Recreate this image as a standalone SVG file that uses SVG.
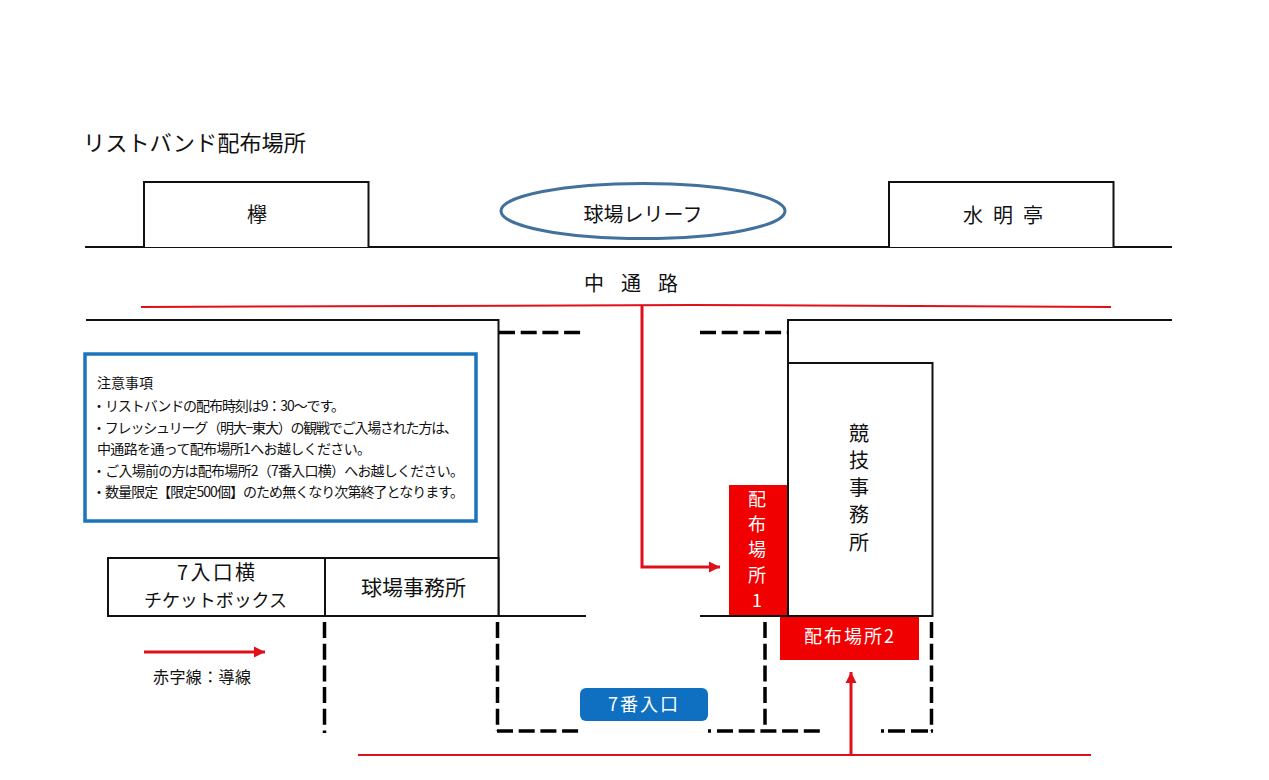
<svg xmlns="http://www.w3.org/2000/svg" width="1269" height="780" viewBox="0 0 1269 780">
<style>
text{font-family:"Noto Sans CJK JP","Liberation Sans",sans-serif;fill:#111}
.m{text-anchor:middle}
.w{fill:#fff;text-anchor:middle}
.b{fill:#fff;stroke:#111;stroke-width:2}
.l{fill:none;stroke:#111;stroke-width:2}
.d{fill:none;stroke:#000;stroke-width:3.5;stroke-dasharray:16 5.7}
.r{fill:none;stroke:#e0101a;stroke-width:2}
.a{fill:none;stroke:#e0101a;stroke-width:3}
.t{font-size:14px}
</style>
<defs><marker id="ah" markerUnits="userSpaceOnUse" markerWidth="12" markerHeight="12" refX="11" refY="6" orient="auto"><path d="M0 0.500L11 6L0 11.500Z" fill="#e0101a"/></marker></defs>
<rect width="1269" height="780" fill="#fff"/>
<text x="83" y="151" font-size="22" textLength="223" lengthAdjust="spacingAndGlyphs">リストバンド配布場所</text>
<g id="connectors">
<path class="l" d="M86 320H498.500V616H108"/>
<path class="l" d="M85 247H1172"/>
<path class="l" d="M1172 320H788V363"/>
<path class="l" d="M498 616H586M700 616H788"/>
<path class="d" d="M499 332.500H581"/>
<path class="d" d="M700 332.500H788"/>
<path class="d" d="M324.500 622V733"/>
<path class="d" d="M497.500 622V731"/>
<path class="d" d="M765 622V731"/>
<path class="d" d="M931.500 622V731"/>
<path class="d" d="M497 731H581"/>
<path class="d" d="M708 731H820" style="stroke-dasharray:3 6 16 5.700 16 5.700 16 5.700 16 5.700 16 5.700"/>
<path class="d" d="M881 731H933" style="stroke-dasharray:3 4 17 6 17 3 3 9"/>
<path class="r" d="M141 307L692 305L1111 307"/>
<path class="r" d="M358 755H1091"/>
<path class="a" d="M642 306V567H720" marker-end="url(#ah)"/>
<path class="a" d="M851 755V672" marker-end="url(#ah)"/>
<path class="a" d="M144 652H265" marker-end="url(#ah)"/>
</g>
<g id="keyaki"><path class="b" d="M144 247V182H368.500V247"/><text class="m" x="257" y="222" font-size="20">欅</text></g>
<g id="suimeitei"><path class="b" d="M889 247V182H1113.500V247"/><text x="963" y="223" font-size="20" textLength="80" lengthAdjust="spacing" xml:space="preserve">水 明 亭</text></g>
<g id="relief"><ellipse cx="643" cy="211" rx="142" ry="27.500" fill="#fff" stroke="#41719c" stroke-width="3"/><text class="m" x="643" y="222" font-size="20">球場レリーフ</text></g>
<g id="nakadori"><text x="584" y="291" font-size="20" textLength="94" lengthAdjust="spacing" xml:space="preserve">中 通 路</text></g>
<g id="notice"><rect x="85" y="354" width="391" height="167" fill="#fff" stroke="#1c75bc" stroke-width="3.500"/>
<text class="t" x="97" y="388" textLength="56" lengthAdjust="spacing">注意事項</text>
<text class="t" x="92" y="411" textLength="253" lengthAdjust="spacing">・リストバンドの配布時刻は9：30～です。</text>
<text class="t" x="92" y="433" textLength="366" lengthAdjust="spacing">・フレッシュリーグ（明大−東大）の観戦でご入場された方は、</text>
<text class="t" x="97" y="454" textLength="274" lengthAdjust="spacing">中通路を通って配布場所1へお越しください。</text>
<text class="t" x="92" y="476" textLength="372" lengthAdjust="spacing">・ご入場前の方は配布場所2（7番入口横）へお越しください。</text>
<text class="t" x="92" y="497" textLength="372" lengthAdjust="spacing">・数量限定【限定500個】のため無くなり次第終了となります。</text></g>
<g id="ticket"><rect class="b" x="108" y="558" width="217" height="58"/><text x="177" y="580" font-size="20" textLength="78" lengthAdjust="spacing">7入口横</text><text x="144" y="607" font-size="18" textLength="143" lengthAdjust="spacing">チケットボックス</text></g>
<g id="office"><rect class="b" x="325" y="558" width="173.500" height="58"/><text class="m" x="413.500" y="595" font-size="21">球場事務所</text></g>
<g id="legend"><text x="153" y="683" font-size="16" textLength="98" lengthAdjust="spacing">赤字線：導線</text></g>
<g id="jimusho"><rect class="b" x="788" y="363" width="144.500" height="253"/>
<text class="m" x="859" y="441" font-size="20">競</text><text class="m" x="859" y="468" font-size="20">技</text><text class="m" x="859" y="495" font-size="20">事</text><text class="m" x="859" y="522" font-size="20">務</text><text class="m" x="859" y="550" font-size="20">所</text></g>
<g id="dist1"><rect x="729" y="485" width="58" height="130" fill="#f00000"/>
<text class="w" x="757" y="506" font-size="18">配</text><text class="w" x="757" y="531" font-size="18">布</text><text class="w" x="757" y="556" font-size="18">場</text><text class="w" x="757" y="582" font-size="18">所</text><text class="w" x="757" y="607" font-size="18">1</text></g>
<g id="dist2"><rect x="780" y="617" width="139" height="43" fill="#f00000"/><text x="804" y="643" font-size="18" style="fill:#fff" textLength="90" lengthAdjust="spacing">配布場所2</text></g>
<g id="gate7"><rect x="580" y="688" width="128" height="33" rx="6" fill="#0f6fc0"/><text x="608" y="711" font-size="18" style="fill:#fff" textLength="70" lengthAdjust="spacing">7番入口</text></g>
</svg>
